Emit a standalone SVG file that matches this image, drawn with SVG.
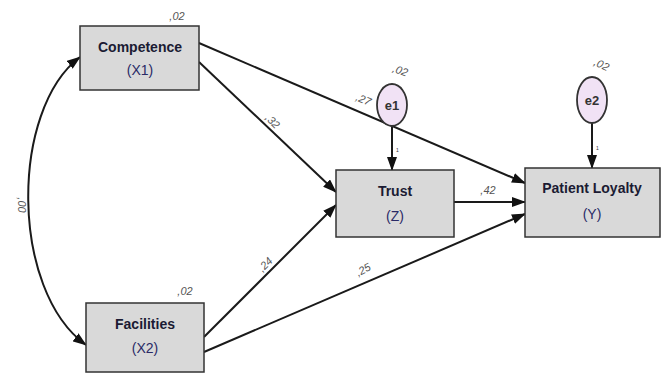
<svg xmlns="http://www.w3.org/2000/svg" width="665" height="374" viewBox="0 0 665 374">
<defs>
<marker id="ah" markerUnits="userSpaceOnUse" markerWidth="14" markerHeight="10" refX="13" refY="5" orient="auto-start-reverse" viewBox="0 0 14 10">
<path d="M0,0 L14,5 L0,10 Z" fill="#111"/>
</marker>
</defs>
<style>
.box{fill:#d9d9d9;stroke:#333;stroke-width:1.5}
.err{fill:#f1e2f5;stroke:#333;stroke-width:1.8}
.t1{font-family:"Liberation Sans",Arial,sans-serif;font-weight:bold;font-size:14px;fill:#1b1b33;text-anchor:middle}
.t2{font-family:"Liberation Sans",Arial,sans-serif;font-size:14px;fill:#2a2a66;text-anchor:middle}
.te{font-family:"Liberation Sans",Arial,sans-serif;font-weight:bold;font-size:13px;fill:#333;text-anchor:middle}
.c{font-family:"Liberation Sans",Arial,sans-serif;font-style:italic;font-size:11px;fill:#555;text-anchor:middle}
.tiny{font-family:"Liberation Sans",Arial,sans-serif;font-size:5px;fill:#333}
.ln{fill:none;stroke:#1a1a1a;stroke-width:2}
</style>
<g id="connectors">
<path class="ln" d="M80,57 C10,110 10,290 86,345" stroke-width="1.6" marker-start="url(#ah)" marker-end="url(#ah)"/>
<line class="ln" x1="199" y1="62" x2="336" y2="192" marker-end="url(#ah)"/>
<line class="ln" x1="199" y1="43" x2="525" y2="183" marker-end="url(#ah)"/>
<line class="ln" x1="204" y1="337" x2="336" y2="205" marker-end="url(#ah)"/>
<line class="ln" x1="204" y1="352" x2="525" y2="214" marker-end="url(#ah)"/>
<line class="ln" x1="454" y1="202" x2="525" y2="202" marker-end="url(#ah)"/>
<line class="ln" x1="392" y1="126" x2="392" y2="170" marker-end="url(#ah)"/>
<line class="ln" x1="592" y1="123" x2="592" y2="168" marker-end="url(#ah)"/>
<text class="c" x="18" y="205" transform="rotate(90 18 205)">,00</text>
<text class="c" x="270" y="124" transform="rotate(45 270 124)">,32</text>
<text class="c" x="362" y="103" transform="rotate(23 362 103)">,27</text>
<text class="c" x="268" y="267" transform="rotate(-45 268 267)">,24</text>
<text class="c" x="365" y="273" transform="rotate(-28 365 273)">,25</text>
<text class="c" x="488" y="194">,42</text>
<text class="tiny" x="396" y="152">1</text>
<text class="tiny" x="596" y="150">1</text>
</g>
<g id="competence">
<rect class="box" x="80" y="26" width="119" height="64"/>
<text class="t1" x="140" y="52">Competence</text>
<text class="t2" x="140" y="75">(X1)</text>
<text class="c" x="177" y="20">,02</text>
</g>
<g id="facilities">
<rect class="box" x="86" y="303" width="118" height="69"/>
<text class="t1" x="145" y="329">Facilities</text>
<text class="t2" x="145" y="353">(X2)</text>
<text class="c" x="185" y="295">,02</text>
</g>
<g id="trust">
<rect class="box" x="336" y="170" width="118" height="67"/>
<text class="t1" x="395" y="196">Trust</text>
<text class="t2" x="395" y="221">(Z)</text>
</g>
<g id="loyalty">
<rect class="box" x="525" y="168" width="135" height="69"/>
<text class="t1" x="592" y="193">Patient Loyalty</text>
<text class="t2" x="592" y="219">(Y)</text>
</g>
<g id="e1">
<ellipse class="err" cx="392" cy="105" rx="15" ry="21"/>
<text class="te" x="392" y="110">e1</text>
<text class="c" x="399" y="74" transform="rotate(20 399 74)">,02</text>
</g>
<g id="e2">
<ellipse class="err" cx="592" cy="100" rx="15" ry="23"/>
<text class="te" x="592" y="105">e2</text>
<text class="c" x="600" y="68" transform="rotate(25 600 68)">,02</text>
</g>
</svg>
